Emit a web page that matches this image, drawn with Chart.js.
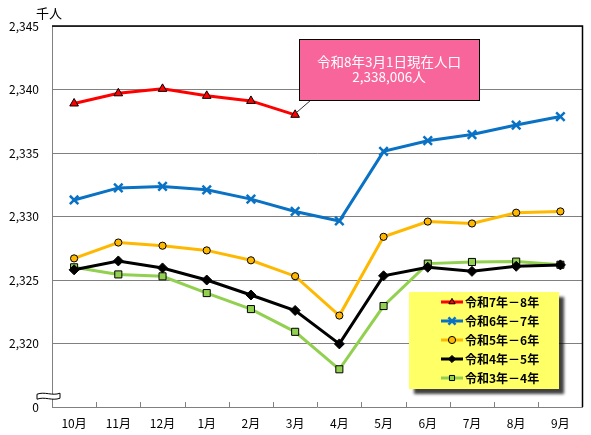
<!DOCTYPE html>
<html>
<head>
<meta charset="utf-8">
<script src="https://cdn.jsdelivr.net/npm/chart.js@4/dist/chart.umd.min.js"></script>
<style>
  body { margin: 0; background: #fff; }
  canvas { display: block; }
</style>
</head>
<body>
<canvas id="popChart" width="591" height="435"></canvas>
<script>
// months (Oct -> Sep)
const months = ["10月", "11月", "12月", "1月", "2月", "3月", "4月", "5月", "6月", "7月", "8月", "9月"];
const seriesNames = ["令和7年－8年", "令和6年－7年", "令和5年－6年", "令和4年－5年", "令和3年－4年"];

// population, thousand people
const r7 = [2338.9, 2339.7, 2340.05, 2339.5, 2339.1, 2338.006];
const r6 = [2331.3, 2332.25, 2332.37, 2332.1, 2331.37, 2330.4, 2329.65, 2335.13, 2335.97, 2336.45, 2337.2, 2337.87];
const r5 = [2326.7, 2327.95, 2327.7, 2327.33, 2326.55, 2325.3, 2322.2, 2328.4, 2329.6, 2329.45, 2330.3, 2330.4];
const r4 = [2325.8, 2326.5, 2325.95, 2325.0, 2323.82, 2322.6, 2319.97, 2325.33, 2326.0, 2325.68, 2326.08, 2326.19];
const r3 = [2326.0, 2325.44, 2325.29, 2323.97, 2322.71, 2320.92, 2317.97, 2322.95, 2326.29, 2326.42, 2326.45, 2326.2];

const yTicks = [2315, 2320, 2325, 2330, 2335, 2340, 2345];
const calloutText = ["令和8年3月1日現在人口", "2,338,006人"];

const colors = ["#ff0000", "#0a72c4", "#ffb800", "#000000", "#92d050"];
const jpFont = '"Noto Sans CJK JP", sans-serif';

function makeSet(i, data, style, radius, extra) {
  return Object.assign({
    label: seriesNames[i],
    data: data,
    borderColor: colors[i],
    backgroundColor: colors[i],
    borderWidth: 3,
    pointStyle: style,
    pointRadius: radius,
    pointHoverRadius: radius,
    pointBackgroundColor: colors[i],
    pointBorderColor: "#000",
    pointBorderWidth: 1,
    tension: 0,
  }, extra || {});
}

const datasets = [
  makeSet(0, r7, "triangle", 5),
  makeSet(1, r6, "crossRot", 6, { pointBorderColor: colors[1], pointBorderWidth: 2.5 }),
  makeSet(2, r5, "circle", 3.6),
  makeSet(3, r4, "rectRot", 5),
  makeSet(4, r3, "rect", 5),
];

// extras: frame, tick marks, axis break, unit label, callout, legend
const extras = {
  id: "extras",
  afterDraw(chart) {
    const ctx = chart.ctx;
    const a = chart.chartArea;
    const xs = chart.scales.x;
    const ys = chart.scales.y;
    ctx.save();

    // top and right border
    ctx.strokeStyle = "#000";
    ctx.lineWidth = 1.5;
    ctx.beginPath();
    ctx.moveTo(a.left, a.top);
    ctx.lineTo(a.right, a.top);
    ctx.lineTo(a.right, a.bottom);
    ctx.stroke();

    // small tick marks at category boundaries
    ctx.strokeStyle = "#808080";
    ctx.lineWidth = 1;
    for (let i = 0; i < months.length - 1; i++) {
      const px = Math.round((xs.getPixelForValue(i) + xs.getPixelForValue(i + 1)) / 2) + 0.5;
      ctx.beginPath();
      ctx.moveTo(px, a.bottom);
      ctx.lineTo(px, a.bottom - 5);
      ctx.stroke();
    }

    // axis break mark
    const by = ys.getPixelForValue(2315.85);
    ctx.fillStyle = "#fff";
    ctx.strokeStyle = "#000";
    ctx.lineWidth = 1;
    ctx.beginPath();
    ctx.moveTo(37, by - 2);
    ctx.bezierCurveTo(45, by - 5, 52, by, 60, by - 3);
    ctx.lineTo(60, by + 2);
    ctx.bezierCurveTo(52, by + 5, 45, by, 37, by + 3);
    ctx.closePath();
    ctx.fill();
    ctx.stroke();

    // unit
    ctx.fillStyle = "#000";
    ctx.font = "13px " + jpFont;
    ctx.textAlign = "left";
    ctx.textBaseline = "middle";
    ctx.fillText("千人", 36, 13);

    // callout box with leader
    const mx = xs.getPixelForValue(5);
    const my = ys.getPixelForValue(r7[5]);
    ctx.strokeStyle = "#333";
    ctx.lineWidth = 1;
    ctx.beginPath();
    ctx.moveTo(311, 100);
    ctx.lineTo(mx + 1, my - 2);
    ctx.stroke();
    ctx.fillStyle = "#f8659a";
    ctx.fillRect(299, 39, 180, 61);
    ctx.strokeStyle = "#000";
    ctx.strokeRect(299.5, 39.5, 180, 61);
    ctx.fillStyle = "#fff";
    ctx.font = "13.5px " + jpFont;
    ctx.textAlign = "center";
    ctx.fillText(calloutText[0], 389, 62);
    ctx.fillText(calloutText[1], 389, 77);

    // legend with shadow
    ctx.fillStyle = "rgba(0,0,0,0.75)";
    ctx.filter = "blur(1.5px)";
    ctx.fillRect(414, 297, 150, 97);
    ctx.filter = "none";
    ctx.fillStyle = "#ffff66";
    ctx.fillRect(409, 292, 150, 97);
    ctx.font = "bold 12px " + jpFont;
    ctx.textAlign = "left";
    chart.data.datasets.forEach((ds, i) => {
      const ry = 302 + i * 19;
      ctx.strokeStyle = ds.borderColor;
      ctx.lineWidth = 3;
      ctx.beginPath();
      ctx.moveTo(441, ry);
      ctx.lineTo(463, ry);
      ctx.stroke();
      ctx.fillStyle = ds.pointBackgroundColor;
      ctx.strokeStyle = ds.pointBorderColor;
      ctx.lineWidth = ds.pointBorderWidth;
      Chart.helpers.drawPoint(ctx, {
        pointStyle: ds.pointStyle,
        radius: ds.pointStyle === "crossRot" ? 5 : 3.6,
        borderWidth: ds.pointBorderWidth,
      }, 452, ry);
      ctx.fillStyle = "#000";
      ctx.fillText(ds.label, 465, ry + 0.5);
    });
    ctx.restore();
  },
};

new Chart(document.getElementById("popChart"), {
  type: "line",
  data: { labels: months, datasets: datasets },
  options: {
    responsive: false,
    animation: false,
    devicePixelRatio: 1,
    layout: { padding: { top: 26, right: 8, left: 0, bottom: 0 } },
    plugins: {
      legend: { display: false },
      tooltip: { enabled: false },
    },
    scales: {
      x: {
        offset: true,
        afterFit: (s) => { s.height = 28; },
        grid: { display: false, drawTicks: false },
        border: { color: "#808080", width: 1 },
        ticks: {
          color: "#000",
          padding: 9,
          maxRotation: 0,
          font: { family: jpFont, size: 12 },
        },
      },
      y: {
        min: yTicks[0],
        max: yTicks[yTicks.length - 1],
        afterFit: (s) => { s.width = 52; },
        afterBuildTicks: (s) => { s.ticks = yTicks.map((v) => ({ value: v })); },
        grid: {
          drawTicks: false,
          color: (c) => (c.tick && c.tick.value === yTicks[0] ? "rgba(0,0,0,0)" : "#808080"),
        },
        border: { color: "#808080", width: 1 },
        ticks: {
          color: "#000",
          padding: 13,
          font: { family: jpFont, size: 12 },
          callback: (v) => (v === yTicks[0] ? "0" : v.toLocaleString("en-US")),
        },
      },
    },
  },
  plugins: [extras],
});
</script>
</body>
</html>
